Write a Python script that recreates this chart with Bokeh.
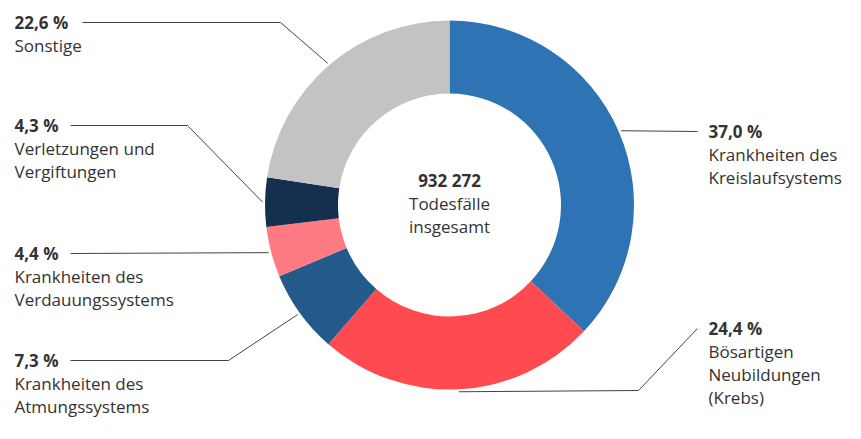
import math
from bokeh.plotting import figure
from bokeh.models import Range1d
from bokeh.core.properties import value
from bokeh.embed import file_html
from bokeh.resources import INLINE

# ---- data ----
categories = ["Krankheiten des Kreislaufsystems", "Bösartigen Neubildungen (Krebs)",
              "Krankheiten des Atmungssystems", "Krankheiten des Verdauungssystems",
              "Verletzungen und Vergiftungen", "Sonstige"]
shares = [37.0, 24.4, 7.3, 4.4, 4.3, 22.6]
pct_labels = ["37,0 %", "24,4 %", "7,3 %", "4,4 %", "4,3 %", "22,6 %"]
name_lines = [["Krankheiten des", "Kreislaufsystems"],
              ["Bösartigen", "Neubildungen", "(Krebs)"],
              ["Krankheiten des", "Atmungssystems"],
              ["Krankheiten des", "Verdauungssystems"],
              ["Verletzungen und", "Vergiftungen"],
              ["Sonstige"]]
total_label = "932 272"
center_lines = ["Todesfälle", "insgesamt"]

# ---- style / layout ----
colors = ["#2e74b5", "#ff4a50", "#245a8a", "#ff7a82", "#15304f", "#c3c3c3"]
FONT = "Open Sans"
FS = "17px"
TXT = "#333333"
LINE = "#444444"
W, H = 845, 423
TOP = 439  # data y of the picture's top edge (data y = TOP - pixel y)
CX, CY = 449, TOP - 204.5
R_OUT, R_IN = 184.5, 111.5
R_ANCH = 187
LH = 23
# per label: text x, first-line pixel y, elbow (pixel) or None, line end x (near text)
layout = [
    dict(tx=708, ty=131, elbow=None, lx=697),
    dict(tx=708, ty=328, elbow=(638, 390), lx=697),
    dict(tx=14, ty=360, elbow=(228, 360), lx=70),
    dict(tx=14, ty=253, elbow=None, lx=70),
    dict(tx=14, ty=125, elbow=(187, 125), lx=70),
    dict(tx=14, ty=22, elbow=(280, 22), lx=82),
]

p = figure(width=W, height=H, output_backend="svg", toolbar_location=None,
           x_range=Range1d(0, W), y_range=Range1d(TOP - H, TOP),
           min_border=0)
p.axis.visible = False
p.grid.visible = False
p.outline_line_color = None
p.background_fill_color = "white"

total = sum(shares)
cum = 0.0
starts, ends, mids = [], [], []
for s in shares:
    a = cum / total
    b = (cum + s) / total
    starts.append(math.pi / 2 - 2 * math.pi * b)
    ends.append(math.pi / 2 - 2 * math.pi * a)
    mids.append(math.pi / 2 - 2 * math.pi * (a + b) / 2)
    cum += s

p.annular_wedge(x=[CX] * len(shares), y=[CY] * len(shares), inner_radius=R_IN, outer_radius=R_OUT,
                start_angle=starts, end_angle=ends, direction="anticlock",
                fill_color=colors, line_color=None)

for i, lay in enumerate(layout):
    ax = CX + R_ANCH * math.cos(mids[i])
    ay = CY + R_ANCH * math.sin(mids[i])
    ty = TOP - lay["ty"]
    if lay["elbow"] is None:
        xs = [ax, lay["lx"]]
        ys = [ay, ty]
    else:
        ex, ey = lay["elbow"]
        xs = [ax, ex, lay["lx"]]
        ys = [ay, TOP - ey, ty]
    p.line(xs, ys, line_color=LINE, line_width=1)
    p.text(x=[lay["tx"]], y=[ty], text=[pct_labels[i]], text_font=value(FONT),
           text_font_size=FS, text_font_style="bold", text_color=TXT,
           text_baseline="middle", text_align="left")
    for j, ln in enumerate(name_lines[i]):
        p.text(x=[lay["tx"]], y=[ty - LH * (j + 1)], text=[ln], text_font=value(FONT),
               text_font_size=FS, text_color=TXT, text_baseline="middle", text_align="left")

p.text(x=[CX], y=[TOP - 180], text=[total_label], text_font=value(FONT), text_font_size=FS,
       text_font_style="bold", text_color=TXT, text_baseline="middle", text_align="center")
for j, ln in enumerate(center_lines):
    p.text(x=[CX], y=[TOP - 180 - LH * (j + 1)], text=[ln], text_font=value(FONT),
           text_font_size=FS, text_color=TXT, text_baseline="middle", text_align="center")

open("out.html", "w").write(file_html(p, INLINE))
